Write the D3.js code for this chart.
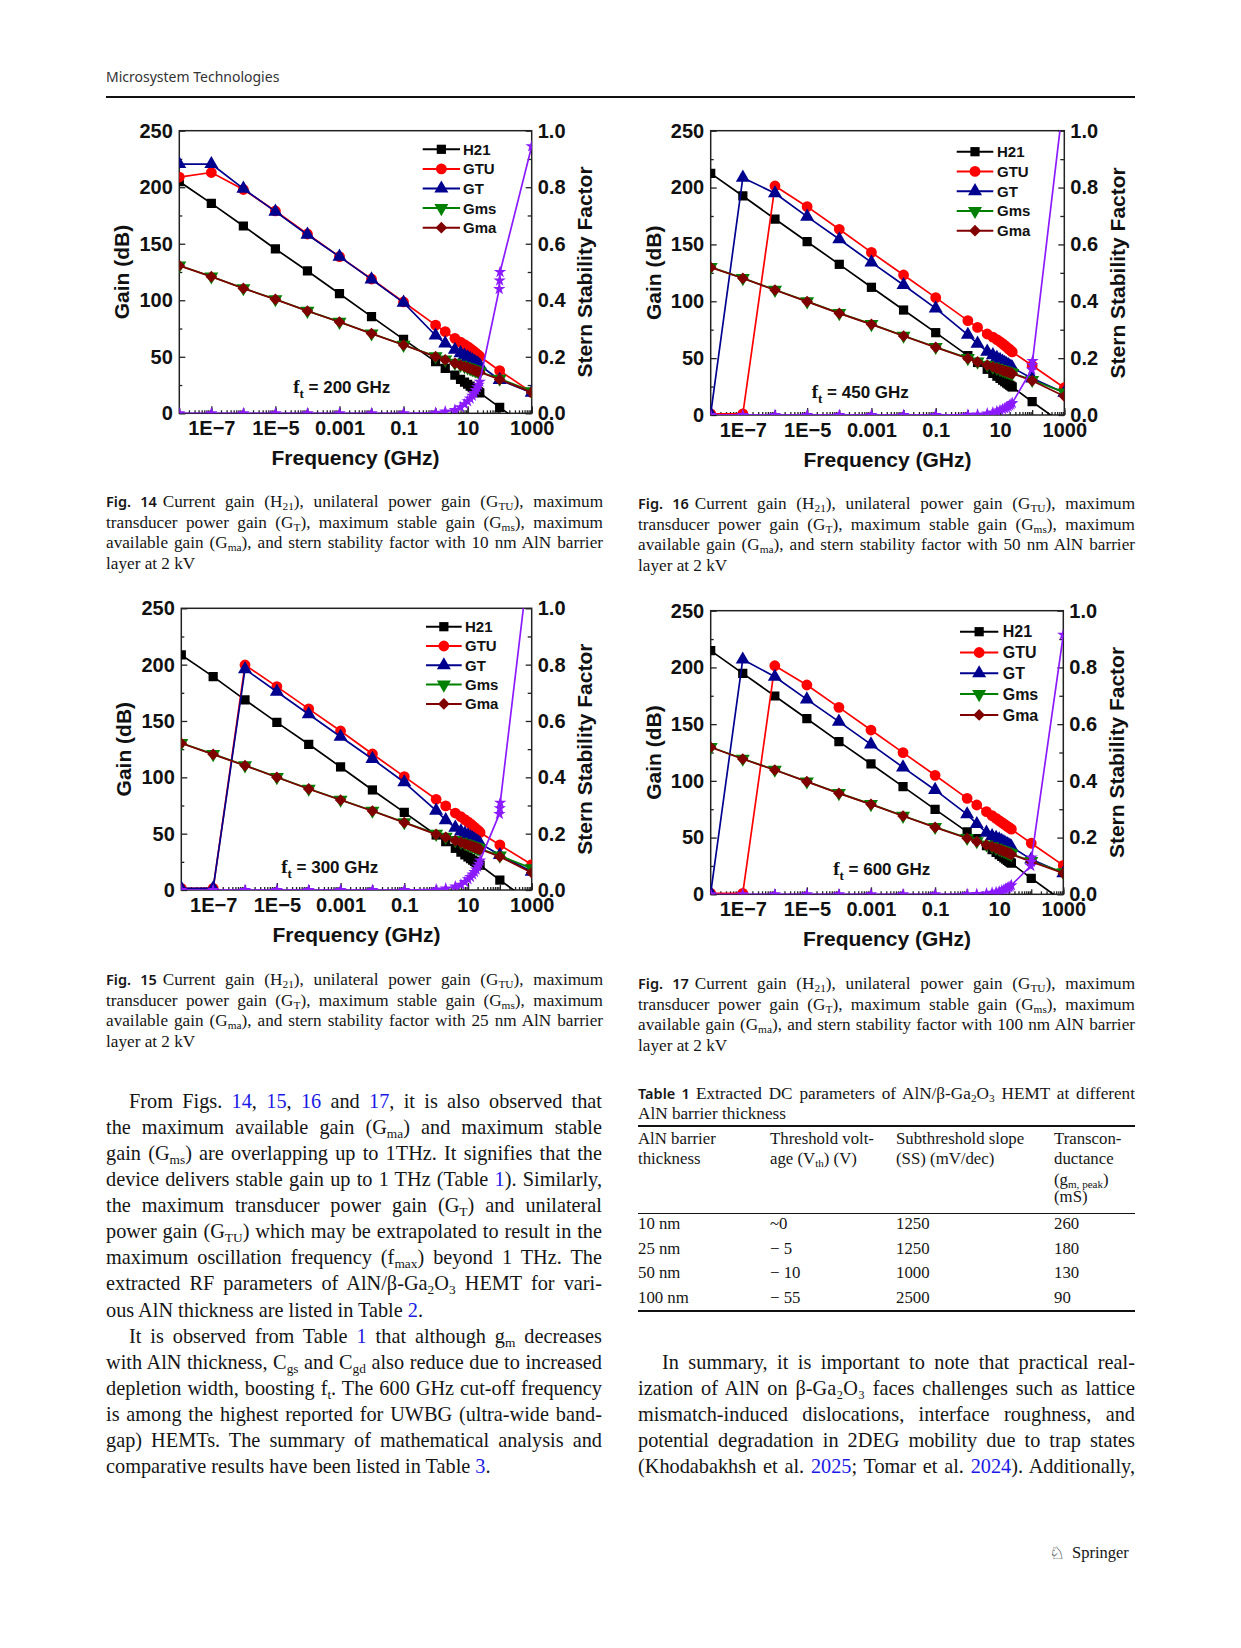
<!DOCTYPE html>
<html><head><meta charset="utf-8">
<script src="https://cdn.jsdelivr.net/npm/d3@7"></script>
<style>
html,body{margin:0;padding:0;background:#fff;}
#page{position:relative;width:1241px;height:1648px;overflow:hidden;background:#fff;}
#svg{position:absolute;left:0;top:0;}
.ln{position:absolute;white-space:nowrap;color:#151515;}
.serif{font-family:'Liberation Serif','Times New Roman',serif;}
sub{font-size:0.66em;vertical-align:-0.3em;line-height:0;}
.lk{color:#1a1ae6;}
.lab{font-family:'Noto Sans','Open Sans',sans-serif;font-weight:600;}
.hdr{font-family:'Noto Sans','Open Sans',sans-serif;color:#333;}
</style></head><body><div id="page"><svg id="svg" width="1241" height="1648"></svg></div>
<script>
// ---------------- DATA ----------------
const freq = [1e-8,1e-7,1e-6,1e-5,1e-4,1e-3,0.01,0.1,1,2,4,6,8,10,12,14,16,18,20,22,24,100,1000];
const ssfFreq = [1e-8,1e-7,1e-6,1e-5,1e-4,1e-3,0.01,0.1,1,2,4,6,8,10,12,14,16,18,20,22,24,97,100,103,1000];

const seriesNames = ["H21","GTU","GT","Gms","Gma"];

// Fig. 14 (10 nm, ft = 200 GHz)
const h21_fig14 = [205,185.7,165.7,145.4,125.9,105.8,85.5,65.4,45.7,39.7,33.7,30.1,27.6,25.7,24.1,22.8,21.6,20.6,19.7,18.9,18.1,5.2,-14.8];
const gtu_fig14 = [209,213,198,179,158.6,138.6,118.8,98.5,78,72.2,66.3,63,60.8,59,57.3,55.8,54.5,53.3,52.2,51.2,50.2,37.7,18.5];
const gt_fig14  = [220.5,220.5,198.7,178.4,158,138.6,118.5,97.9,68.8,61.8,56.2,53.2,51.1,49.5,48.1,46.9,45.8,44.9,44,43.2,42.5,29.5,18.3];
const gms_fig14 = [130.8,121,110.6,100.9,90.6,80.9,70.6,60.6,50.4,47.5,44.6,42.9,41.6,40.6,39.8,39.1,38.5,38,37.5,37.1,36.7,30.6,19.5];
const gma_fig14 = [130.6,120.9,110.5,100.8,90.5,80.8,70.5,60.4,50.1,47.2,44.2,42.5,41.2,40.2,39.4,38.7,38.1,37.6,37.1,36.7,36.3,30,18.5];
const ssf_fig14 = [0,0,0,0,0,0,0,0,0.002,0.006,0.012,0.021,0.032,0.043,0.052,0.062,0.072,0.082,0.092,0.101,0.112,0.44,0.47,0.50,0.945];

// Fig. 15 (25 nm, ft = 300 GHz)
const h21_fig15 = [208.6,189.4,168.7,148.8,129.3,109.2,88.8,68.9,48.8,42.9,37,33.6,31.2,29.3,27.8,26.5,25.4,24.4,23.5,22.7,22,8.8,-11.5];
const gtu_fig15 = [1.5,1.5,199.7,180.5,160.7,141.1,120.7,100.6,80.5,74.6,68.3,65,62.5,60.5,58.7,57,55.6,54.3,53.1,52,51,40,22.5];
const gt_fig15  = [1.5,1.5,196,176,156,136,116.3,95.6,70.4,62,55.3,52,50,48.5,47,45.8,44.7,43.7,42.8,42,41.2,31,16.3];
const gms_fig15 = [130.4,120.6,110.6,100.2,89.9,80.1,70.3,60.1,49.8,47.2,44.3,42.7,41.5,40.5,39.7,39,38.4,37.9,37.4,37,36.6,30.5,19.2];
const gma_fig15 = [130.2,120.4,110.4,100,89.7,79.9,70.1,59.8,49.4,46.8,43.8,42.2,41,40,39.2,38.5,37.9,37.4,36.9,36.5,36.1,29.6,15.4];
const ssf_fig15 = [0,0,0,0,0,0,0,0,0.002,0.005,0.012,0.019,0.028,0.038,0.046,0.055,0.064,0.073,0.083,0.093,0.105,0.27,0.29,0.31,1.25];

// Fig. 16 (50 nm, ft = 450 GHz)
const h21_fig16 = [212.5,192.6,172.3,152.4,132.5,112.3,92.3,72.4,52.2,46.2,40.2,36.6,34.1,32.2,30.6,29.3,28.1,27.1,26.2,25.4,24.6,11.7,-8.6];
const gtu_fig16 = [1,1,201.4,183.2,163.3,143,123.1,103.2,83,77,71.2,68.5,66.3,64.4,62.7,61.2,59.8,58.6,57.5,56.5,55.5,43.5,24];
const gt_fig16  = [1,208.7,195,174.4,154.5,134.2,114.3,93.8,70.5,62.8,55.7,52.6,50.3,48.5,47,45.8,44.8,43.9,43.1,42.4,41.7,32.2,19.5];
const gms_fig16 = [130,120.4,110.1,99.9,89.6,79.9,69.7,59.8,50,47,44.2,42.6,41.4,40.4,39.7,39,38.5,38,37.6,37.2,36.8,30.8,19.8];
const gma_fig16 = [129.8,120.2,109.9,99.7,89.4,79.7,69.5,59.5,49.7,46.7,43.8,42.2,41,40,39.3,38.6,38.1,37.6,37.2,36.8,36.4,30.2,16.5];
const ssf_fig16 = [0,0,0,0,0,0,0,0,0.001,0.002,0.005,0.009,0.013,0.017,0.02,0.023,0.026,0.03,0.034,0.038,0.042,0.16,0.175,0.19,1.13];

// Fig. 17 (100 nm, ft = 600 GHz)
const h21_fig17 = [214.8,194.8,174.8,154.8,134.6,114.9,94.9,74.9,55,49,43,39.4,36.9,35,33.4,32.1,30.9,29.9,29,28.2,27.4,14.1,-6.3];
const gtu_fig17 = [0.8,0.8,201.5,184.5,164.8,144.8,124.9,104.9,84.6,78.7,72.9,69.4,66.9,65,63.4,62.1,60.9,59.9,59,58.2,57.4,45,25.5];
const gt_fig17  = [1,207,191.8,171.8,152.2,132.2,111.9,92,70.5,62,54.4,51.4,49.8,48.5,47.2,46,45,44.1,43.3,42.6,41.9,30.8,18.5];
const gms_fig17 = [129.8,119.5,109.8,99.5,89.2,79.5,69.2,59.3,49.7,46.8,43.9,42.4,41,40,39.1,38.4,37.7,37.1,36.6,36.1,35.6,29.4,19.5];
const gma_fig17 = [129.6,119.3,109.6,99.3,89,79.3,69,59,49.4,46.5,43.5,42,40.6,39.6,38.7,38,37.3,36.7,36.2,35.7,35.2,28.8,18.5];
const ssf_fig17 = [0,0,0,0,0,0,0,0,0.0005,0.001,0.003,0.005,0.007,0.01,0.013,0.016,0.019,0.022,0.025,0.028,0.032,0.10,0.115,0.13,0.915];

// ticks
const xTickValues = [1e-7,1e-5,1e-3,0.1,10,1000];
const xTickLabels = ["1E\u22127","1E\u22125","0.001","0.1","10","1000"];
const yLeftTicks = [0,50,100,150,200,250];
const yRightTicks = [0,0.2,0.4,0.6,0.8,1.0];

// ---------------- STYLE / LAYOUT ----------------
const SANS = "'Liberation Sans', Arial, Helvetica, sans-serif";
const SERIF = "'Liberation Serif', 'Times New Roman', serif";
const styles = {
  H21: {color:"#000000", sym:d3.symbolSquare, size:85, rot:0},
  GTU: {color:"#ff0000", sym:d3.symbolCircle, size:92, rot:0},
  GT:  {color:"#00008f", sym:d3.symbolTriangle, size:85, rot:0},
  Gms: {color:"#008000", sym:d3.symbolTriangle, size:85, rot:180},
  Gma: {color:"#800000", sym:d3.symbolSquare, size:68, rot:45},
  SSF: {color:"#8b1aff", sym:d3.symbolStar, size:48, rot:0}
};

const charts = [
  {id:"f14", left:179.3, right:531.7, top:130.7, bottom:413.3, ft:"200", ftX:341.7, ftY:393.3,
   leg:{x1:422.7, x2:460, tx:463, y0:149.3, dy:19.6, fs:15},
   data:[h21_fig14,gtu_fig14,gt_fig14,gms_fig14,gma_fig14], ssf:ssf_fig14},
  {id:"f16", left:710.7, right:1064.3, top:130.7, bottom:415, ft:"450", ftX:860.3, ftY:397.8,
   leg:{x1:956.7, x2:993.3, tx:997, y0:151.7, dy:19.75, fs:15},
   data:[h21_fig16,gtu_fig16,gt_fig16,gms_fig16,gma_fig16], ssf:ssf_fig16},
  {id:"f15", left:181.3, right:531.7, top:608.3, bottom:890, ft:"300", ftX:329.7, ftY:873.3,
   leg:{x1:426, x2:461.7, tx:465, y0:626.7, dy:19.3, fs:15},
   data:[h21_fig15,gtu_fig15,gt_fig15,gms_fig15,gma_fig15], ssf:ssf_fig15},
  {id:"f17", left:710.7, right:1063.3, top:610.7, bottom:894.3, ft:"600", ftX:881.7, ftY:875,
   leg:{x1:960, x2:998.3, tx:1002.7, y0:631.7, dy:20.8, fs:16},
   data:[h21_fig17,gtu_fig17,gt_fig17,gms_fig17,gma_fig17], ssf:ssf_fig17}
];

const svg = d3.select("#svg");
const page = document.getElementById("page");

const decadeX = d3.range(-8,4).map(e => Math.pow(10,e));
const minorX = [];
for (let e=-8; e<3; e++) for (let m=2; m<10; m++) minorX.push(m*Math.pow(10,e));

function marker(sel, st) {
  return sel.attr("d", d3.symbol().type(st.sym).size(st.size)())
    .attr("fill", st.color);
}

function drawChart(c) {
  const g = svg.append("g");
  const x = d3.scaleLog().domain([1e-8, 1e3]).range([c.left, c.right]);
  const y = d3.scaleLinear().domain([0, 250]).range([c.bottom, c.top]);
  const y2 = d3.scaleLinear().domain([0, 1]).range([c.bottom, c.top]);
  const clipId = "clip-" + c.id;
  svg.append("clipPath").attr("id", clipId).append("rect")
    .attr("x", c.left).attr("y", c.top).attr("width", c.right - c.left).attr("height", c.bottom - c.top);

  const styleAxis = s => {
    s.select(".domain").remove();
    s.attr("color", "#222").attr("font-family", SANS).attr("font-size", 20).attr("font-weight", "bold");
    s.selectAll("line").attr("stroke-width", 1.3);
    s.selectAll("text").attr("fill", "#111");
  };
  // x axis
  g.append("g").attr("transform", `translate(0,${c.bottom})`)
    .call(d3.axisBottom(x).tickValues(minorX).tickSize(-3).tickFormat("")).call(styleAxis);
  g.append("g").attr("transform", `translate(0,${c.bottom})`)
    .call(d3.axisBottom(x).tickValues(decadeX).tickSize(-5).tickFormat("")).call(styleAxis);
  g.append("g").attr("transform", `translate(0,${c.bottom})`)
    .call(d3.axisBottom(x).tickValues(xTickValues).tickFormat((d,i) => xTickLabels[i]).tickSize(-7).tickPadding(8))
    .call(styleAxis);
  // left axis
  g.append("g").attr("transform", `translate(${c.left},0)`)
    .call(d3.axisLeft(y).tickValues([25,75,125,175,225]).tickSize(-3).tickFormat("")).call(styleAxis);
  g.append("g").attr("transform", `translate(${c.left},0)`)
    .call(d3.axisLeft(y).tickValues(yLeftTicks).tickSize(-6).tickPadding(6.5)).call(styleAxis);
  // right axis
  g.append("g").attr("transform", `translate(${c.right},0)`)
    .call(d3.axisRight(y2).tickValues([0.1,0.3,0.5,0.7,0.9]).tickSize(-4).tickFormat("")).call(styleAxis);
  g.append("g").attr("transform", `translate(${c.right},0)`)
    .call(d3.axisRight(y2).tickValues(yRightTicks).tickFormat(d => d.toFixed(1)).tickSize(-6).tickPadding(6))
    .call(styleAxis);

  // frame
  g.append("rect").attr("x", c.left).attr("y", c.top).attr("width", c.right - c.left).attr("height", c.bottom - c.top)
    .attr("fill", "none").attr("stroke", "#222").attr("stroke-width", 1.5);

  // series
  const plot = g.append("g").attr("clip-path", `url(#${clipId})`);
  const line = (ys, yScale, xs) => d3.line().x((d,i) => x(xs[i])).y(d => yScale(d))(ys);
  const allSeries = seriesNames.map((n,i) => ({name:n, vals:c.data[i], xs:freq, ys:y}));
  allSeries.push({name:"SSF", vals:c.ssf, xs:ssfFreq, ys:y2});
  allSeries.forEach(s => {
    const st = styles[s.name];
    plot.append("path").attr("d", line(s.vals, s.ys, s.xs)).attr("fill", "none")
      .attr("stroke", st.color).attr("stroke-width", 1.7).attr("stroke-linejoin", "round");
    plot.selectAll(null).data(s.vals).enter().append("path")
      .call(sel => marker(sel, st))
      .attr("transform", (d,i) => `translate(${x(s.xs[i])},${s.ys(d)}) rotate(${st.rot})`);
  });

  // legend
  seriesNames.forEach((n,i) => {
    const st = styles[n];
    const ly = c.leg.y0 + i * c.leg.dy;
    g.append("line").attr("x1", c.leg.x1).attr("x2", c.leg.x2).attr("y1", ly).attr("y2", ly)
      .attr("stroke", st.color).attr("stroke-width", 2);
    g.append("path").call(sel => marker(sel, st))
      .attr("transform", `translate(${(c.leg.x1 + c.leg.x2)/2},${ly}) rotate(${st.rot})`);
    g.append("text").attr("x", c.leg.tx).attr("y", ly).attr("dy", "0.36em")
      .attr("font-family", SANS).attr("font-weight", "bold").attr("font-size", c.leg.fs)
      .attr("fill", "#111").text(n);
  });

  // ft annotation
  const t = g.append("text").attr("x", c.ftX).attr("y", c.ftY).attr("text-anchor", "middle")
    .attr("font-weight", "bold").attr("fill", "#111").style("white-space", "pre");
  t.append("tspan").attr("font-family", SERIF).attr("font-size", 19).text("f");
  t.append("tspan").attr("font-family", SERIF).attr("font-size", 13).attr("dy", 5).text("t");
  t.append("tspan").attr("font-family", SANS).attr("font-size", 17).attr("dy", -5).text(" = " + c.ft + " GHz");

  // axis titles
  const cy = (c.top + c.bottom) / 2;
  g.append("text").attr("transform", `translate(${c.left - 57.5},${cy}) rotate(-90)`)
    .attr("text-anchor", "middle").attr("dy", "0.36em")
    .attr("font-family", SANS).attr("font-weight", "bold").attr("font-size", 21).attr("fill", "#111")
    .text("Gain (dB)");
  g.append("text").attr("transform", `translate(${c.right + 53},${cy}) rotate(-90)`)
    .attr("text-anchor", "middle").attr("dy", "0.36em")
    .attr("font-family", SANS).attr("font-weight", "bold").attr("font-size", 21).attr("fill", "#111")
    .text("Stern Stability Factor");
  g.append("text").attr("x", (c.left + c.right) / 2).attr("y", c.bottom + 52)
    .attr("text-anchor", "middle")
    .attr("font-family", SANS).attr("font-weight", "bold").attr("font-size", 21).attr("fill", "#111")
    .text("Frequency (GHz)");
}

charts.forEach(drawChart);

// ---------------- PAGE TEXT ----------------
function addLine(x, yc, w, html, cls, fs, justify) {
  const d = document.createElement("div");
  d.className = "ln " + cls;
  d.style.left = x + "px";
  d.style.fontSize = fs + "px";
  d.style.lineHeight = fs + "px";
  d.style.top = (yc - fs * 0.6) + "px";
  d.innerHTML = html;
  page.appendChild(d);
  if (justify) {
    const nat = d.getBoundingClientRect().width;
    const n = (d.textContent.match(/[ \u00a0]/g) || []).length;
    if (n > 0) d.style.wordSpacing = ((w - nat) / n) + "px";
  }
  return d;
}

// header
addLine(106, 78, 0, "Microsystem Technologies", "hdr", 14, false);
svg.append("line").attr("x1", 106).attr("x2", 1135).attr("y1", 97).attr("y2", 97)
  .attr("stroke", "#111").attr("stroke-width", 2);

// captions
function caption(x, y0, label, nm) {
  const w = 497, dy = 20.6, fs = 17.2;
  addLine(x, y0, w, `<span class="lab" style="margin-right:6px;font-size:14.5px">Fig. ${label}</span>Current gain (H<sub>21</sub>), unilateral power gain (G<sub>TU</sub>), maximum`, "serif", fs, true);
  addLine(x, y0 + dy, w, `transducer power gain (G<sub>T</sub>), maximum stable gain (G<sub>ms</sub>), maximum`, "serif", fs, true);
  addLine(x, y0 + 2*dy, w, `available gain (G<sub>ma</sub>), and stern stability factor with ${nm} nm AlN barrier`, "serif", fs, true);
  addLine(x, y0 + 3*dy, w, `layer at 2 kV`, "serif", fs, false);
}
caption(106, 503.5, "14", "10");
caption(638, 505.5, "16", "50");
caption(106, 981.5, "15", "25");
caption(638, 985.6, "17", "100");

// body text left column
const leftLines = [
  [1, `From Figs. <span class="lk">14</span>, <span class="lk">15</span>, <span class="lk">16</span> and <span class="lk">17</span>, it is also observed that`, true],
  [0, `the maximum available gain (G<sub>ma</sub>) and maximum stable`, true],
  [0, `gain (G<sub>ms</sub>) are overlapping up to 1THz. It signifies that the`, true],
  [0, `device delivers stable gain up to 1 THz (Table <span class="lk">1</span>). Similarly,`, true],
  [0, `the maximum transducer power gain (G<sub>T</sub>) and unilateral`, true],
  [0, `power gain (G<sub>TU</sub>) which may be extrapolated to result in the`, true],
  [0, `maximum oscillation frequency (f<sub>max</sub>) beyond 1 THz. The`, true],
  [0, `extracted RF parameters of AlN/β-Ga<sub>2</sub>O<sub>3</sub> HEMT for vari-`, true],
  [0, `ous AlN thickness are listed in Table <span class="lk">2</span>.`, false],
  [1, `It is observed from Table <span class="lk">1</span> that although g<sub>m</sub> decreases`, true],
  [0, `with AlN thickness, C<sub>gs</sub> and C<sub>gd</sub> also reduce due to increased`, true],
  [0, `depletion width, boosting f<sub>t</sub>. The 600 GHz cut-off frequency`, true],
  [0, `is among the highest reported for UWBG (ultra-wide band-`, true],
  [0, `gap) HEMTs. The summary of mathematical analysis and`, true],
  [0, `comparative results have been listed in Table <span class="lk">3</span>.`, false]
];
const bodyFs = 20.3, bodyDy = 26.05;
leftLines.forEach((l, i) => {
  const ind = l[0] ? 23 : 0;
  addLine(106 + ind, 1103.3 + i * bodyDy, 496 - ind, l[1], "serif", bodyFs, l[2]);
});
const rightLines = [
  [1, `In summary, it is important to note that practical real-`, true],
  [0, `ization of AlN on β-Ga₂O₃ faces challenges such as lattice`, true],
  [0, `mismatch-induced dislocations, interface roughness, and`, true],
  [0, `potential degradation in 2DEG mobility due to trap states`, true],
  [0, `(Khodabakhsh et al. <span class="lk">2025</span>; Tomar et al. <span class="lk">2024</span>). Additionally,`, true]
];
rightLines.forEach((l, i) => {
  const ind = l[0] ? 24 : 0;
  addLine(638 + ind, 1363.9 + i * bodyDy, 497 - ind, l[1], "serif", bodyFs, l[2]);
});

// Table 1
const tableCols = [638, 770, 896, 1054];
const tableHead = [
  ["AlN barrier", "Threshold volt-", "Subthreshold slope", "Transcon-"],
  ["thickness", "age (V<sub>th</sub>) (V)", "(SS) (mV/dec)", "ductance"],
  ["", "", "", "(g<sub>m, peak</sub>)"],
  ["", "", "", "(mS)"]
];
const tableHeadY = [1141.5, 1161, 1182, 1199];
const tableRows = [
  ["10 nm", "~0", "1250", "260"],
  ["25 nm", "\u2212 5", "1250", "180"],
  ["50 nm", "\u2212 10", "1000", "130"],
  ["100 nm", "\u2212 55", "2500", "90"]
];
const tableRowY = [1226.5, 1251, 1275.5, 1300];
addLine(638, 1095, 497, `<span class="lab" style="margin-right:6px;font-size:14.5px">Table 1</span>Extracted DC parameters of AlN/β-Ga<sub>2</sub>O<sub>3</sub> HEMT at different`, "serif", 17.2, true);
addLine(638, 1115, 497, `AlN barrier thickness`, "serif", 17.2, false);
tableHead.forEach((r, i) => r.forEach((cell, j) => { if (cell) addLine(tableCols[j], tableHeadY[i], 0, cell, "serif", 16.8, false); }));
tableRows.forEach((r, i) => r.forEach((cell, j) => addLine(tableCols[j], tableRowY[i], 0, cell, "serif", 16.8, false)));
[[1126, 2], [1213.5, 1.2], [1311, 2]].forEach(([yy, sw]) =>
  svg.append("line").attr("x1", 638).attr("x2", 1135).attr("y1", yy).attr("y2", yy)
    .attr("stroke", "#111").attr("stroke-width", sw));

// footer
addLine(1049, 1555, 0, `<span style="font-family:'DejaVu Sans';font-size:18px">\u2658</span>`, "serif", 16, false);
addLine(1072, 1555, 0, `Springer`, "serif", 16.5, false);
</script></body></html>
